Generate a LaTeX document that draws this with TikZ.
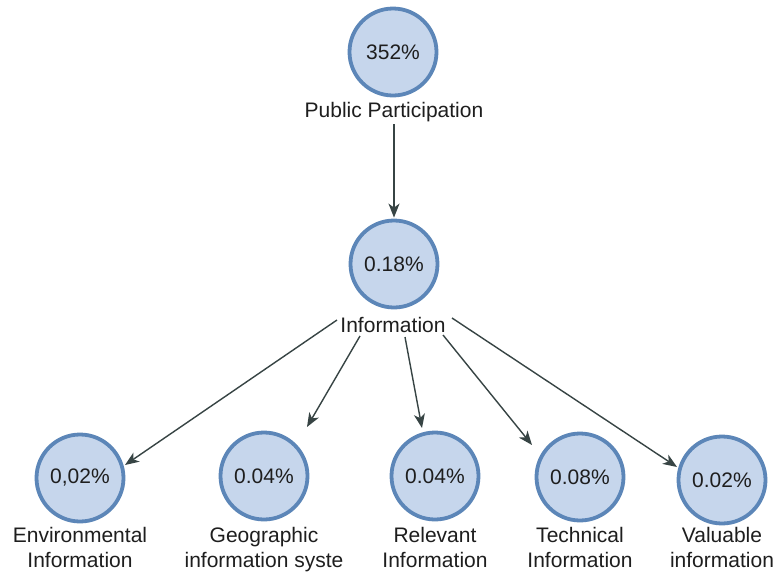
\documentclass[tikz,border=0pt]{standalone}
\usepackage{fontspec}
\setmainfont{Liberation Sans}
\usetikzlibrary{arrows.meta}
\definecolor{cfill}{RGB}{198,214,236}
\definecolor{cring}{RGB}{92,134,184}
\definecolor{carrow}{RGB}{55,68,68}
\definecolor{ctext}{RGB}{30,30,30}
\begin{document}
\begin{tikzpicture}[x=1pt,y=-1pt,
  valnode/.style={circle,fill=cfill,draw=cring,line width=3.8pt,minimum size=87pt,inner sep=0pt,
    font=\fontsize{21}{25}\selectfont,text=ctext},
  lbl/.style={anchor=base,inner sep=0pt,align=center,font=\fontsize{21}{25}\selectfont,text=ctext},
  conn/.style={draw=carrow,line width=1.4pt,-{Stealth[length=14pt,width=11pt,inset=4pt]}}]
\useasboundingbox (0,0) rectangle (777,571);
\fill[white] (0,0) rectangle (777,571);
% top
\node[valnode] (pp) at (393,52) {352\%};
\node[lbl] (ppl) at (394,117) {Public Participation};
\node[valnode] (info) at (394,264) {0.18\%};
\node[lbl] (infol) at (393,332) {Information};
% bottom
\node[valnode] (env) at (80,478) {0,02\%};
\node[valnode] (geo) at (264,476) {0.04\%};
\node[valnode] (rel) at (435,476) {0.04\%};
\node[valnode] (tech) at (580,477) {0.08\%};
\node[valnode] (val) at (722,480) {0.02\%};
\node[lbl] (envl) at (80,567) {Environmental\\Information};
\node[lbl] (geol) at (264,567) {Geographic\\information syste};
\node[lbl] (rell) at (435,567) {Relevant\\Information};
\node[lbl] (techl) at (580,567) {Technical\\Information};
\node[lbl] (vall) at (722,567) {Valuable\\information};
% connectors
\draw[conn] ([shift={(0,7)}]ppl.base) -- ([shift={(0,-1)}]info.north);
\draw[conn] ([shift={(-56,-12)}]infol.base) -- ([shift={(45,-13)}]env.center);
\draw[conn] ([shift={(-33,4)}]infol.base) -- ([shift={(43,-49)}]geo.center);
\draw[conn] ([shift={(12,5)}]infol.base) -- ([shift={(-13,-48)}]rel.center);
\draw[conn] ([shift={(50,3)}]infol.base) -- ([shift={(-48,-32)}]tech.center);
\draw[conn] ([shift={(59,-14)}]infol.base) -- ([shift={(-45,-13)}]val.center);
\end{tikzpicture}
\end{document}
